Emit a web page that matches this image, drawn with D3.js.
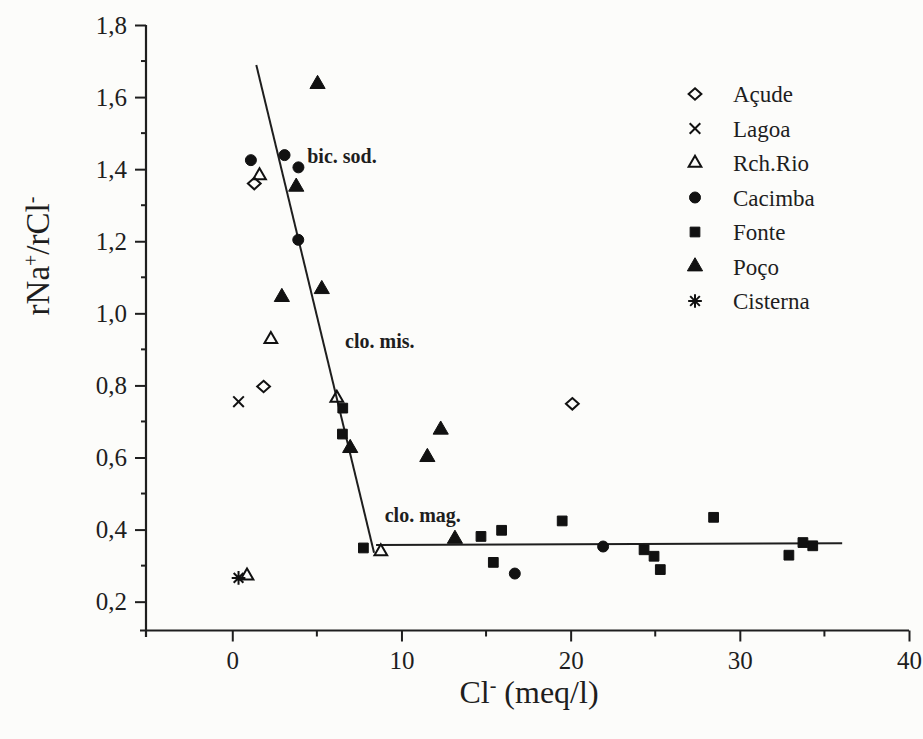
<!DOCTYPE html>
<html>
<head>
<meta charset="utf-8">
<script src="https://cdn.jsdelivr.net/npm/d3@7"></script>
<style>
  body { margin: 0; background: #fcfcfa; }
  svg { display: block; }
  text { font-family: "Liberation Serif", "DejaVu Serif", serif; fill: #1e1e1e; }
</style>
</head>
<body>
<svg id="chart" width="923" height="739"></svg>
<script>
// Sample groups (Cl- in meq/l, rNa+/rCl- ratio)
const seriesNames = ["Açude", "Lagoa", "Rch.Rio", "Cacimba", "Fonte", "Poço", "Cisterna"];
const acude    = [[1.3, 1.36], [1.85, 0.797], [20.1, 0.749]];
const lagoa    = [[0.37, 0.755]];
const rchRio   = [[1.61, 1.382], [2.28, 0.928], [6.18, 0.765], [8.78, 0.339], [0.87, 0.272]];
const cacimba  = [[1.1, 1.425], [3.09, 1.439], [3.91, 1.405], [3.9, 1.204], [16.7, 0.278], [21.92, 0.353]];
const fonte    = [[6.53, 0.737], [6.51, 0.665], [7.75, 0.349], [14.7, 0.381], [15.92, 0.398], [15.43, 0.309],
                  [19.5, 0.424], [24.34, 0.344], [24.93, 0.326], [25.3, 0.289], [28.45, 0.434],
                  [32.9, 0.329], [33.73, 0.364], [34.31, 0.355]];
const poco     = [[5.04, 1.636], [3.78, 1.351], [5.29, 1.067], [2.93, 1.045], [6.97, 0.626],
                  [11.53, 0.601], [12.32, 0.677], [13.16, 0.374]];
const cisterna = [[0.37, 0.266]];

// Trend segments separating the water types
const trendSteep = [[1.42, 1.689], [8.38, 0.336]];
const trendFlat  = [[8.5, 0.357], [36.05, 0.362]];

// Water-type annotations
const zoneLabels = [
  { text: "bic. sod.", x: 4.43, y: 1.417 },
  { text: "clo. mis.", x: 6.67, y: 0.904 },
  { text: "clo. mag.", x: 9.01, y: 0.422 }
];

const xTicks = [0, 10, 20, 30, 40];
const xMinorTicks = [-5, 5, 15, 25, 35];
const yTicks = [0.2, 0.4, 0.6, 0.8, 1.0, 1.2, 1.4, 1.6, 1.8];
const yMinorTicks = [0.1, 0.3, 0.5, 0.7, 0.9, 1.1, 1.3, 1.5, 1.7];

// Rotated-square diamond, a little wider than tall
const wideDiamond = {
  draw(ctx, size) {
    const r = Math.sqrt(size) / 1.6;
    ctx.moveTo(0, -r * 0.9); ctx.lineTo(r, 0); ctx.lineTo(0, r * 0.9); ctx.lineTo(-r, 0); ctx.closePath();
  }
};
// Eight-armed star
const star = {
  draw(ctx, size) {
    const r = Math.sqrt(size) / 1.6, d = r * Math.SQRT1_2;
    ctx.moveTo(-r, 0); ctx.lineTo(r, 0);
    ctx.moveTo(0, -r); ctx.lineTo(0, r);
    ctx.moveTo(-d, -d); ctx.lineTo(d, d);
    ctx.moveTo(-d, d); ctx.lineTo(d, -d);
  }
};

const series = [
  { name: seriesNames[0], data: acude,    symbol: wideDiamond,       size: 105, fill: "none" },
  { name: seriesNames[1], data: lagoa,    symbol: d3.symbolTimes,    size: 75,  fill: "none" },
  { name: seriesNames[2], data: rchRio,   symbol: d3.symbolTriangle, size: 70,  fill: "none" },
  { name: seriesNames[3], data: cacimba,  symbol: d3.symbolCircle,   size: 95,  fill: "#111" },
  { name: seriesNames[4], data: fonte,    symbol: d3.symbolSquare,   size: 95,  fill: "#111" },
  { name: seriesNames[5], data: poco,     symbol: d3.symbolTriangle, size: 100, fill: "#111" },
  { name: seriesNames[6], data: cisterna, symbol: star,              size: 120, fill: "none" }
];

const svg = d3.select("#chart");
const x = d3.scaleLinear().domain([-5.1, 40]).range([146, 909]);
const y = d3.scaleLinear().domain([0.12, 1.8]).range([630.5, 25]);
const fmt = d => d3.format(".1f")(d).replace(".", ",");

const ink = "#1e1e1e";

// Y axis
const yAxis = svg.append("g").attr("transform", `translate(${x(-5.1)},0)`);
yAxis.call(d3.axisLeft(y).tickValues(yTicks).tickFormat(fmt).tickSize(11).tickPadding(8))
  .call(g => g.select(".domain").remove())
  .call(g => g.selectAll(".tick line").attr("stroke", ink).attr("stroke-width", 2))
  .call(g => g.selectAll(".tick text").attr("font-size", 25).attr("font-family", "Liberation Serif").attr("fill", ink));
yAxis.selectAll(".minor").data(yMinorTicks.filter(v => v > 0.12)).enter().append("line")
  .attr("x1", -5).attr("x2", 0).attr("y1", d => y(d)).attr("y2", d => y(d))
  .attr("stroke", ink).attr("stroke-width", 2);
yAxis.append("line").attr("x1", 0).attr("x2", 0).attr("y1", y(1.8)).attr("y2", 637)
  .attr("stroke", ink).attr("stroke-width", 2.2);

// X axis
const xAxis = svg.append("g").attr("transform", `translate(0,${y(0.12)})`);
xAxis.call(d3.axisBottom(x).tickValues(xTicks).tickFormat(d3.format("d")).tickSize(11).tickPadding(10))
  .call(g => g.select(".domain").remove())
  .call(g => g.selectAll(".tick line").attr("stroke", ink).attr("stroke-width", 2))
  .call(g => g.selectAll(".tick text").attr("font-size", 25).attr("font-family", "Liberation Serif").attr("fill", ink));
xAxis.selectAll(".minor").data(xMinorTicks.filter(v => v > -5)).enter().append("line")
  .attr("x1", d => x(d)).attr("x2", d => x(d)).attr("y1", 0).attr("y2", 6)
  .attr("stroke", ink).attr("stroke-width", 2);
xAxis.append("line").attr("x1", 140).attr("x2", x(40)).attr("y1", 0).attr("y2", 0)
  .attr("stroke", ink).attr("stroke-width", 2.2);

// Axis titles
const yTitle = svg.append("text")
  .attr("transform", `translate(49,256) rotate(-90)`)
  .attr("text-anchor", "middle").attr("font-size", 33);
yTitle.append("tspan").text("rNa");
yTitle.append("tspan").attr("baseline-shift", "super").attr("font-size", 20).text("+");
yTitle.append("tspan").text("/rCl");
yTitle.append("tspan").attr("baseline-shift", "super").attr("font-size", 20).text("-");

const xTitle = svg.append("text")
  .attr("x", 529).attr("y", 703)
  .attr("text-anchor", "middle").attr("font-size", 32);
xTitle.append("tspan").text("Cl");
xTitle.append("tspan").attr("baseline-shift", "super").attr("font-size", 20).text("-");
xTitle.append("tspan").text(" (meq/l)");

// Trend lines
const line = d3.line().x(d => x(d[0])).y(d => y(d[1]));
svg.append("path").attr("d", line(trendSteep)).attr("fill", "none").attr("stroke", ink).attr("stroke-width", 2);
svg.append("path").attr("d", line(trendFlat)).attr("fill", "none").attr("stroke", ink).attr("stroke-width", 2);

// Zone labels
svg.selectAll(".zone").data(zoneLabels).enter().append("text")
  .attr("x", d => x(d.x)).attr("y", d => y(d.y))
  .attr("font-size", 20).attr("font-weight", "bold").text(d => d.text);

// Points
const sym = s => d3.symbol().type(s.symbol).size(s.size)();
series.forEach(s => {
  svg.append("g").selectAll("path").data(s.data).enter().append("path")
    .attr("d", sym(s))
    .attr("transform", d => `translate(${x(d[0])},${y(d[1])})`)
    .attr("fill", s.fill)
    .attr("stroke", "#111")
    .attr("stroke-width", s.fill === "none" ? 2 : 1);
});

// Legend
const legend = svg.append("g").attr("transform", "translate(695,94)");
series.forEach((s, i) => {
  const row = legend.append("g").attr("transform", `translate(0,${i * 34.5})`);
  row.append("path").attr("d", sym(s)).attr("fill", s.fill).attr("stroke", "#111")
    .attr("stroke-width", s.fill === "none" ? 2 : 1);
  row.append("text").attr("x", 38).attr("y", 8).attr("font-size", 23).text(s.name);
});
</script>
</body>
</html>
